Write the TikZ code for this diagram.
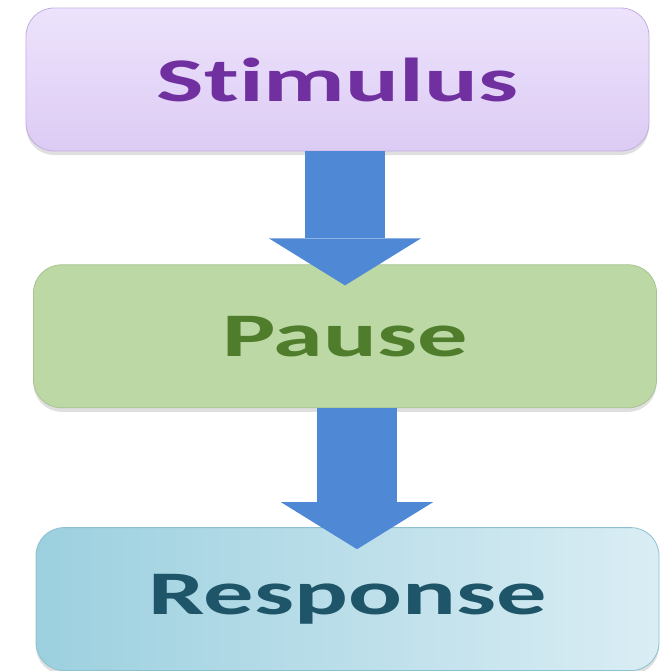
\documentclass[tikz,border=0pt]{standalone}
\usepackage{fontspec}
\newfontfamily\stagefont{Carlito}[FakeStretch=1.62, Ligatures=CommonOff]
\usepackage{tikz}
\usetikzlibrary{positioning,shadows,arrows.meta}
\definecolor{stimtop}{HTML}{EDE3FC}
\definecolor{stimbot}{HTML}{DCCBF4}
\definecolor{stimline}{HTML}{C3AEE0}
\definecolor{stimtext}{HTML}{7030A0}
\definecolor{pausefill}{HTML}{BCD9A5}
\definecolor{pauseline}{HTML}{A7C391}
\definecolor{pausetext}{HTML}{4F7D2C}
\definecolor{respleft}{HTML}{9CD0DF}
\definecolor{respright}{HTML}{DAEDF4}
\definecolor{respline}{HTML}{8DC1D1}
\definecolor{resptext}{HTML}{1F5568}
\definecolor{flowblue}{HTML}{4F89D6}
\tikzset{
  stage/.style={rectangle, rounded corners=14pt, minimum width=311.5pt, minimum height=71.5pt, text centered, font=\stagefont\bfseries\fontsize{31pt}{31pt}\selectfont, drop shadow={shadow xshift=0pt, shadow yshift=-2pt, opacity=0.25}},
  st/.style={stage, draw=stimline, top color=stimtop, bottom color=stimbot, text=stimtext},
  ps/.style={stage, draw=pauseline, fill=pausefill, text=pausetext},
  rs/.style={stage, draw=respline, left color=respleft, right color=respright, text=resptext},
  flow/.style={draw=flowblue, line width=40pt, -{Triangle[width=76pt, length=23.5pt, line width=0pt]}}
}
\begin{document}
\begin{tikzpicture}[x=0.5pt, y=-0.5pt]
	\useasboundingbox (0,0) rectangle (664,671);
	\node[st] (stim) at (337.5,79.5) {Stimulus};
	\node[ps, below=56.5pt of stim, xshift=3.75pt] (pause) {Pause};
	\node[rs, below=59.5pt of pause, xshift=1.25pt] (resp) {Response};
	%
	\draw[flow] (stim.south -| pause.north) -- ([yshift=-10.5pt]pause.north);
	\coordinate (tipB) at ([xshift=4.75pt, yshift=-11pt]resp.north);
	\draw[flow] (pause.south -| tipB) -- (tipB);
\end{tikzpicture}
\end{document}
